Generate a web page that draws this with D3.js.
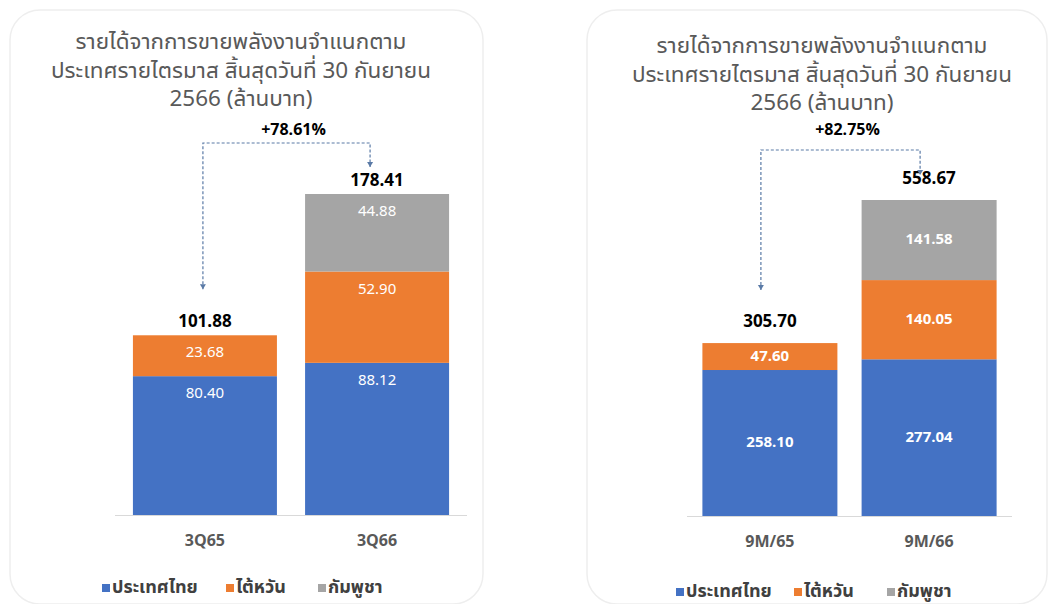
<!DOCTYPE html>
<html>
<head>
<meta charset="utf-8">
<script src="https://cdn.jsdelivr.net/npm/d3@7"></script>
<style>
  html, body { margin: 0; padding: 0; background: #ffffff; }
  svg { display: block; }
  text { font-family: "Noto Sans Thai UI", "Noto Sans Thai", "Noto Sans", "DejaVu Sans", sans-serif; }
</style>
</head>
<body>
<svg id="chart" width="1051" height="604"></svg>
<script>
// ---------- data ----------
const seriesNames = ["ประเทศไทย", "ไต้หวัน", "กัมพูชา"];
const seriesColors = ["#4472C4", "#ED7D31", "#A5A5A5"];
const titleLines = ["รายได้จากการขายพลังงานจำแนกตาม", "ประเทศรายไตรมาส สิ้นสุดวันที่ 30 กันยายน", "2566 (ล้านบาท)"];

const quarterCategories = ["3Q65", "3Q66"];
const quarterThailand = [80.40, 88.12];
const quarterTaiwan = [23.68, 52.90];
const quarterCambodia = [0, 44.88];
const quarterTotals = ["101.88", "178.41"];
const quarterGrowth = "+78.61%";

const ytdCategories = ["9M/65", "9M/66"];
const ytdThailand = [258.10, 277.04];
const ytdTaiwan = [47.60, 140.05];
const ytdCambodia = [0, 141.58];
const ytdTotals = ["305.70", "558.67"];
const ytdGrowth = "+82.75%";

// ---------- layout ----------
const svg = d3.select("#chart");

const panels = [
  { cats: quarterCategories, vals: [quarterThailand, quarterTaiwan, quarterCambodia], totals: quarterTotals, growth: quarterGrowth,
    box: { x: 10, y: 10, w: 473, h: 594 }, titleX: 241, titleY: 43,
    plot: { x0: 115, x1: 467, top: 194, base: 515 }, barW: 144,
    labelMode: "top", labelWeight: "normal", totalOffset: 13, lineY: 143, leftArrowGap: 46, rightArrowGap: 27, pctY: 131,
    connOff: [-2, -7],
    catY: 542, legendY: 588, legendX: [102, 226, 318] },
  { cats: ytdCategories, vals: [ytdThailand, ytdTaiwan, ytdCambodia], totals: ytdTotals, growth: ytdGrowth,
    box: { x: 587, y: 10, w: 460, h: 594 }, titleX: 822, titleY: 47,
    plot: { x0: 687, x1: 1012, top: 200, base: 516 }, barW: 135,
    labelMode: "center", labelWeight: "bold", totalOffset: 21, lineY: 150, leftArrowGap: 53, rightArrowGap: 25, pctY: 131,
    connOff: [-9, -9],
    catY: 543, legendY: 592, legendX: [676, 794, 887] }
];

panels.forEach(p => {
  const g = svg.append("g");

  // panel background box
  g.append("rect")
    .attr("x", p.box.x).attr("y", p.box.y)
    .attr("width", p.box.w).attr("height", p.box.h)
    .attr("rx", 30).attr("ry", 30)
    .attr("fill", "#ffffff")
    .attr("stroke", "#eeeeee").attr("stroke-width", 1.5);

  // title (one text per line)
  titleLines.forEach((ln, i) => {
    g.append("text")
      .attr("x", p.titleX).attr("y", p.titleY + i * 28.5)
      .attr("text-anchor", "middle").attr("dominant-baseline", "middle")
      .attr("fill", "#595959")
      .attr("font-size", 22.5)
      .text(ln);
  });

  // data stack
  const rows = p.cats.map((c, i) => {
    const r = { cat: c };
    seriesNames.forEach((s, k) => r[s] = p.vals[k][i]);
    return r;
  });
  const stack = d3.stack().keys(seriesNames)(rows);
  const maxTotal = d3.max(rows, r => d3.sum(seriesNames, s => r[s]));

  // x scale: bar centres
  const innerW = p.plot.x1 - p.plot.x0;
  const gapW = (innerW - 2 * p.barW) * 0.44;
  const bandStart = p.plot.x0 + (innerW - (2 * p.barW + gapW)) / 2;
  const xb = d3.scalePoint().domain(p.cats)
    .range([bandStart + p.barW / 2, bandStart + p.barW * 1.5 + gapW]);

  const y = d3.scaleLinear().domain([0, maxTotal]).range([p.plot.base, p.plot.top]);

  // axis line
  g.append("line")
    .attr("x1", p.plot.x0).attr("x2", p.plot.x1)
    .attr("y1", p.plot.base + 0.5).attr("y2", p.plot.base + 0.5)
    .attr("stroke", "#d9d9d9").attr("stroke-width", 1);

  // bars
  stack.forEach((layer, k) => {
    layer.forEach((d, i) => {
      if (d[1] - d[0] <= 0) return;
      const cx = xb(p.cats[i]);
      g.append("rect")
        .attr("x", cx - p.barW / 2)
        .attr("y", y(d[1]))
        .attr("width", p.barW)
        .attr("height", y(d[0]) - y(d[1]))
        .attr("fill", seriesColors[k]);
      const segTop = y(d[1]), segBot = y(d[0]);
      const ly = p.labelMode === "center" ? (segTop + segBot) / 2 : Math.min(segTop + 18, (segTop + segBot) / 2);
      g.append("text")
        .attr("x", cx).attr("y", ly)
        .attr("text-anchor", "middle").attr("dominant-baseline", "middle")
        .attr("fill", "#ffffff").attr("font-size", 15)
        .attr("font-weight", p.labelWeight)
        .text(d3.format(".2f")(d[1] - d[0]));
    });
  });

  // totals
  rows.forEach((r, i) => {
    const tot = d3.sum(seriesNames, s => r[s]);
    g.append("text")
      .attr("x", xb(p.cats[i])).attr("y", y(tot) - p.totalOffset)
      .attr("text-anchor", "middle").attr("dominant-baseline", "middle")
      .attr("fill", "#000000").attr("font-size", 17).attr("font-weight", "bold")
      .text(p.totals[i]);
  });

  // category labels
  p.cats.forEach(c => {
    g.append("text")
      .attr("x", xb(c)).attr("y", p.catY)
      .attr("text-anchor", "middle").attr("dominant-baseline", "middle")
      .attr("fill", "#595959").attr("font-size", 16).attr("font-weight", "bold")
      .text(c);
  });

  // growth connector
  const totals = rows.map(r => d3.sum(seriesNames, s => r[s]));
  const lx = xb(p.cats[0]) + p.connOff[0], rx = xb(p.cats[1]) + p.connOff[1];
  const ly1 = y(totals[0]) - p.leftArrowGap, ry1 = y(totals[1]) - p.rightArrowGap;
  g.append("path")
    .attr("d", `M${lx},${ly1} L${lx},${p.lineY} L${rx},${p.lineY} L${rx},${ry1}`)
    .attr("fill", "none").attr("stroke", "#5a7aa6").attr("stroke-width", 1.2)
    .attr("stroke-dasharray", "3,2");
  [[lx, ly1], [rx, ry1]].forEach(([ax, ay]) => {
    g.append("path")
      .attr("d", `M${ax - 3},${ay - 5} L${ax + 3},${ay - 5} L${ax},${ay} Z`)
      .attr("fill", "#5a7aa6");
  });
  g.append("text")
    .attr("x", (lx + rx) / 2 + 7).attr("y", p.pctY)
    .attr("text-anchor", "middle").attr("dominant-baseline", "middle")
    .attr("fill", "#000000").attr("font-size", 16).attr("font-weight", "bold")
    .text(p.growth);

  // legend
  seriesNames.forEach((s, k) => {
    const lx0 = p.legendX[k];
    g.append("rect")
      .attr("x", lx0).attr("y", p.legendY - 4)
      .attr("width", 8).attr("height", 8)
      .attr("fill", seriesColors[k]);
    g.append("text")
      .attr("x", lx0 + 10).attr("y", p.legendY)
      .attr("dominant-baseline", "middle")
      .attr("fill", "#404040").attr("font-size", 18).attr("font-weight", "bold")
      .text(s);
  });
});
</script>
</body>
</html>
